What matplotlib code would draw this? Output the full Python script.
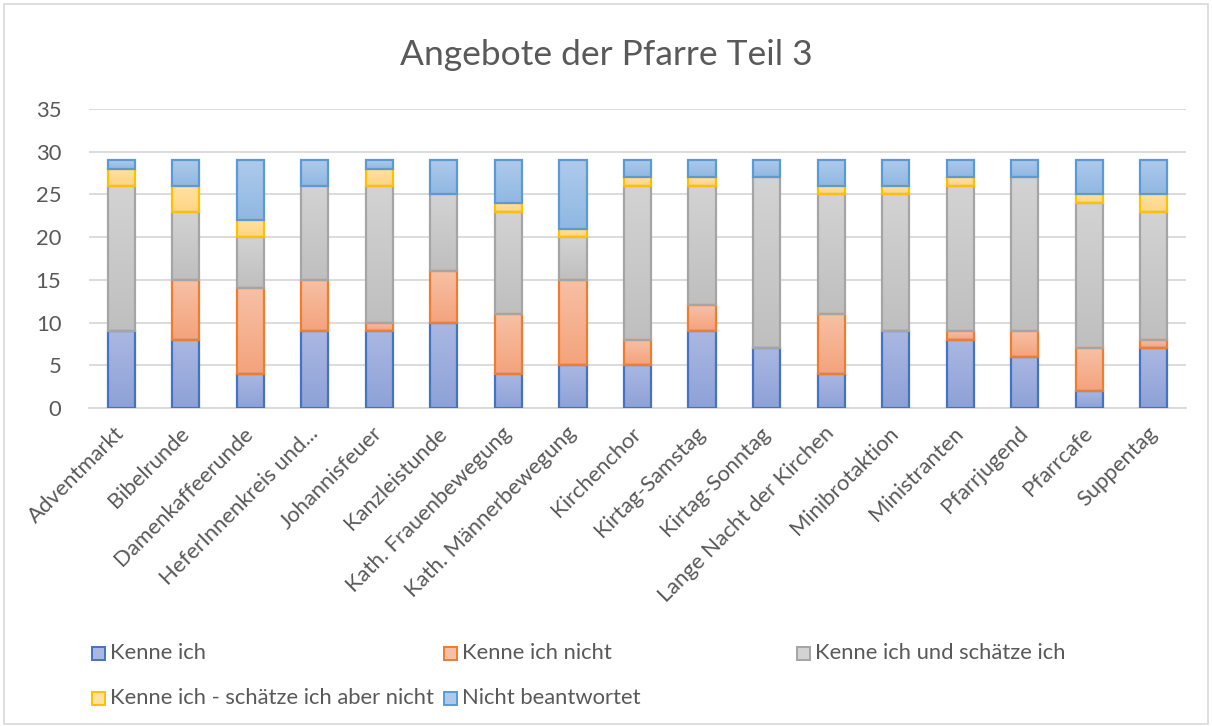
import matplotlib
matplotlib.use("Agg")
import matplotlib.pyplot as plt
import numpy as np
from matplotlib.patches import Rectangle
from matplotlib.colors import to_rgb

categories = ["Adventmarkt", "Bibelrunde", "Damenkaffeerunde", "HeferInnenkreis und...",
              "Johannisfeuer", "Kanzleistunde", "Kath. Frauenbewegung", "Kath. Männerbewegung",
              "Kirchenchor", "Kirtag-Samstag", "Kirtag-Sonntag", "Lange Nacht der Kirchen",
              "Minibrotaktion", "Ministranten", "Pfarrjugend", "Pfarrcafe", "Suppentag"]

kenne_ich = [9, 8, 4, 9, 9, 10, 4, 5, 5, 9, 7, 4, 9, 8, 6, 2, 7]
kenne_ich_nicht = [0, 7, 10, 6, 1, 6, 7, 10, 3, 3, 0, 7, 0, 1, 3, 5, 1]
kenne_schaetze = [17, 8, 6, 11, 16, 9, 12, 5, 18, 14, 20, 14, 16, 17, 18, 17, 15]
kenne_nicht_schaetze = [2, 3, 2, 0, 2, 0, 1, 1, 1, 1, 0, 1, 1, 1, 0, 1, 2]
nicht_beantwortet = [1, 3, 7, 3, 1, 4, 5, 8, 2, 2, 2, 3, 3, 2, 2, 4, 4]

series_names = ["Kenne ich", "Kenne ich nicht", "Kenne ich und schätze ich",
                "Kenne ich - schätze ich aber nicht", "Nicht beantwortet"]
series_values = [kenne_ich, kenne_ich_nicht, kenne_schaetze, kenne_nicht_schaetze, nicht_beantwortet]

edge_colors = ["#4472C4", "#ED7D31", "#A5A5A5", "#FFC000", "#5B9BD5"]
top_colors = ["#aab7e2", "#f7c0a5", "#d3d3d3", "#ffe1a2", "#aecaea"]
bot_colors = ["#8ea2d7", "#f4a37c", "#bfbfbf", "#ffd583", "#90b8e3"]

plt.rcParams['font.family'] = ['Lato', 'DejaVu Sans']
text_color = "#595959"
fs = 15.8

W, H = 1212, 726
fig = plt.figure(figsize=(W / 100, H / 100), dpi=100)
ax = fig.add_axes([89 / W, 1 - 408 / H, (1186 - 89) / W, (408 - 109) / H])

x = np.arange(len(categories))
bar_w = 0.42
bottom = np.zeros(len(categories))
for vals, ec, tc, bc, name in zip(series_values, edge_colors, top_colors, bot_colors, series_names):
    vals = np.array(vals, dtype=float)
    bars = ax.bar(x, vals, bar_w, bottom=bottom, facecolor="none", edgecolor=ec,
                  linewidth=1.6, zorder=3, label=name)
    grad = np.linspace(0, 1, 64)[:, None]
    t = np.array(to_rgb(tc)); b = np.array(to_rgb(bc))
    img = (t[None, None, :] * (1 - grad[..., None]) + b[None, None, :] * grad[..., None])
    for rect, v in zip(bars, vals):
        if v <= 0:
            rect.set_visible(False)
            continue
        x0, y0 = rect.get_x(), rect.get_y()
        im = ax.imshow(img, extent=(x0, x0 + rect.get_width(), y0, y0 + rect.get_height()),
                       aspect='auto', zorder=2, interpolation='bilinear')
        im.set_clip_path(rect)
    bottom += vals

ax.set_xlim(-0.5, len(categories) - 0.5)
ax.set_ylim(0, 35)
ax.set_yticks(np.arange(0, 36, 5))
ax.yaxis.grid(True, color="#d9d9d9", linewidth=1.3, zorder=0)
ax.set_axisbelow(True)
for s in ["top", "right", "left"]:
    ax.spines[s].set_visible(False)
ax.spines["bottom"].set_color("#d9d9d9")
ax.spines["bottom"].set_linewidth(1.3)
ax.tick_params(axis='both', length=0, colors=text_color, labelsize=fs)
ax.tick_params(axis='y', pad=20)
ax.set_xticks(x)
ax.set_xticklabels(categories, rotation=45, ha='right', rotation_mode='anchor', va='center')
for lab in ax.get_xticklabels():
    lab.set_color(text_color)
ax.tick_params(axis='x', pad=16)

fig.text(0.5, 1 - 55 / H, "Angebote der Pfarre Teil 3", ha='center', va='center',
         fontsize=25.5, color=text_color)

# legend entries (manual grid layout as in the original)
leg_pos = [(92, 653), (444, 653), (797, 653), (92, 698), (444, 698)]
for (px, py), name, ec, tc, bc in zip(leg_pos, series_names, edge_colors, top_colors, bot_colors):
    sq = 13
    fig.patches.append(Rectangle((px / W, 1 - (py + sq / 2) / H), sq / W, sq / H,
                                 transform=fig.transFigure, facecolor=tc, edgecolor=ec,
                                 linewidth=1.4))
    fig.text((px + sq + 5) / W, 1 - py / H, name, ha='left', va='center',
             fontsize=fs, color=text_color)

# chart border
fig.patches.append(Rectangle((4 / W, 2 / H), (W - 8) / W, (H - 6) / H, transform=fig.transFigure,
                             facecolor='none', edgecolor='#d9d9d9', linewidth=1.2))

fig.savefig("out.png", dpi=100)
